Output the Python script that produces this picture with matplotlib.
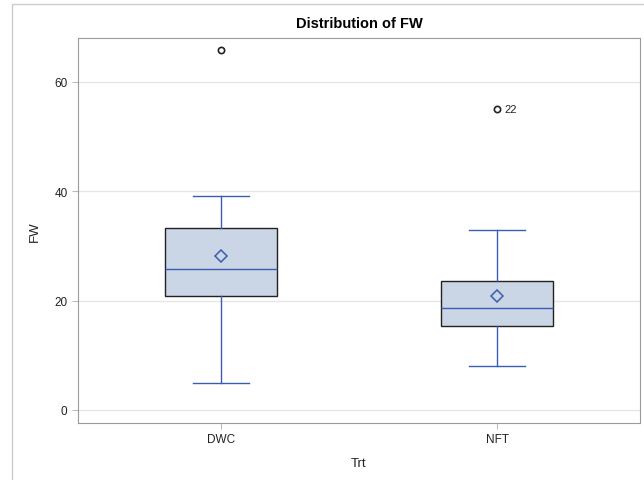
import matplotlib
matplotlib.use("Agg")
import matplotlib.pyplot as plt
from matplotlib.patches import Rectangle

plt.rcParams["font.family"] = ["Liberation Sans", "DejaVu Sans"]

# box statistics
groups = ["DWC", "NFT"]
q1 = [20.9, 15.4]
median = [25.8, 18.7]
q3 = [33.3, 23.5]
mean = [28.2, 20.9]
whislo = [5.0, 8.0]
whishi = [39.2, 33.0]
outliers = [[65.8], [55.1]]
outlier_labels = [[""], ["22"]]

box_fill = "#CAD5E6"
blue = "#3A5DB0"

stats = []
for i, g in enumerate(groups):
    stats.append({
        "label": g, "q1": q1[i], "med": median[i], "q3": q3[i],
        "mean": mean[i], "whislo": whislo[i], "whishi": whishi[i],
        "fliers": outliers[i],
    })

fig = plt.figure(figsize=(6.44, 4.81), dpi=100)
ax = fig.add_axes([78 / 644, 1 - 424 / 481, 562 / 644, 385 / 481])

ax.bxp(
    stats, positions=range(len(groups)), widths=0.405, patch_artist=True,
    showmeans=True, showfliers=True,
    boxprops=dict(facecolor=box_fill, edgecolor="#222222", linewidth=1.0),
    medianprops=dict(color=blue, linewidth=1.0),
    whiskerprops=dict(color=blue, linewidth=1.0),
    capprops=dict(color=blue, linewidth=1.0),
    capwidths=0.2,
    meanprops=dict(marker="D", markerfacecolor="none", markeredgecolor=blue,
                   markersize=6, markeredgewidth=1.1),
    flierprops=dict(marker="o", markerfacecolor="none", markeredgecolor="#222222",
                    markersize=4.5, markeredgewidth=1.2),
)

for i, vals in enumerate(outliers):
    for v, lab in zip(vals, outlier_labels[i]):
        if lab:
            ax.annotate(lab, (i, v), xytext=(5, 0), textcoords="offset points",
                        va="center", ha="left", fontsize=8, color="#222222")

ax.set_xlim(-0.518, 1.518)
ax.set_ylim(-2.4, 68.05)
ax.set_yticks([0, 20, 40, 60])
ax.grid(axis="y", color="#E6E6E6", linewidth=1)
ax.set_axisbelow(True)

for s in ax.spines.values():
    s.set_color("#9A9A9A")
ax.tick_params(colors="#BBBBBB", labelcolor="#222222", labelsize=8.5, length=4)

ax.set_xlabel("Trt", fontsize=9.5, color="#222222", labelpad=8)
ax.set_ylabel("FW", fontsize=9.5, color="#222222", labelpad=10)
ax.set_title("Distribution of FW", fontsize=10.5, fontweight="bold", pad=8)

# outer frame of the graph
fig.patches.append(Rectangle((12 / 644, -0.1), 1.2, 1 - 5 / 481 + 0.1,
                             transform=fig.transFigure, fill=False,
                             edgecolor="#CCCCCC", linewidth=1))

fig.savefig("out.png", dpi=100)
